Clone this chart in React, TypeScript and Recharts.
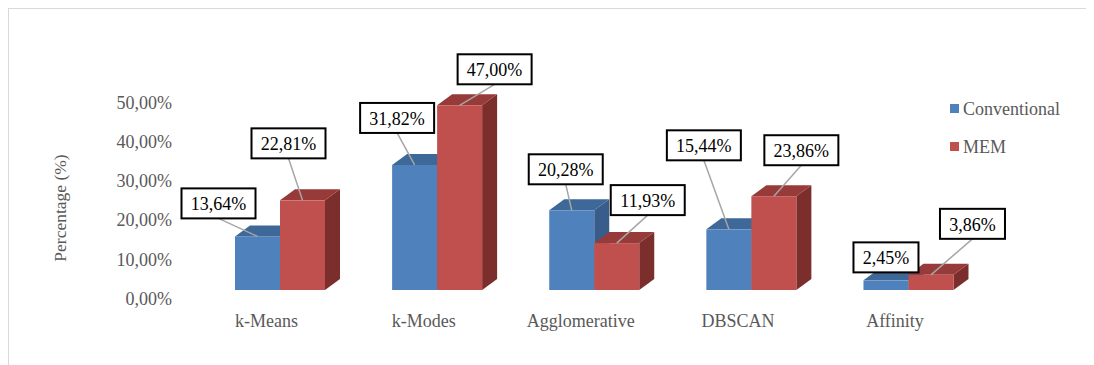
import { BarChart, Bar, XAxis, YAxis, LabelList } from "recharts";

const methods = ["k-Means", "k-Modes", "Agglomerative", "DBSCAN", "Affinity"];
const conventional = [13.64, 31.82, 20.28, 15.44, 2.45];
const mem = [22.81, 47.0, 11.93, 23.86, 3.86];
const yTicks = [0, 10, 20, 30, 40, 50];

// hand placed label boxes, offset from the bar's front top centre
const convLabelPos = [[-39, -33], [-17.5, -47], [-6, -41], [-25, -84], [0, -23]];
const memLabelPos = [[-14, -57], [35, -36], [31, -43], [27.5, -46], [41.5, -51]];

const rows = methods.map((m, i) => ({ name: m, conv: conventional[i], mem: mem[i] }));

const FONT = "Liberation Serif, DejaVu Serif, serif";
const DX = 15;
const DY = 11;

const fmt = (v: number) => v.toFixed(2).replace(".", ",") + "%";

function make3D(front: string, top: string, side: string) {
  return (props: any) => {
    const { x, y, width: w, height: h } = props;
    if (!Number.isFinite(x) || !Number.isFinite(y)) return <g />;
    return (
      <g>
        <polygon
          points={`${x + w},${y} ${x + w + DX},${y - DY} ${x + w + DX},${y + h - DY} ${x + w},${y + h}`}
          fill={side}
        />
        <polygon
          points={`${x},${y} ${x + DX},${y - DY} ${x + w + DX},${y - DY} ${x + w},${y}`}
          fill={top}
        />
        <rect x={x} y={y} width={w} height={h} fill={front} />
      </g>
    );
  };
}

function Callout({ cx, cy, off, value }: { cx: number; cy: number; off: number[]; value: number }) {
  const text = fmt(value);
  const bw = text.length * 9 + 20;
  const bh = 30;
  const bx = cx + off[0];
  const by = cy + off[1];
  const showLine = Math.hypot(off[0], off[1] + bh / 2) > 12;
  return (
    <g>
      {showLine && (
        <line x1={bx} y1={by + bh / 2} x2={cx} y2={cy} stroke="#A6A6A6" strokeWidth={1.5} />
      )}
      <rect x={bx - bw / 2} y={by - bh / 2} width={bw} height={bh} fill="#fff" stroke="#000" strokeWidth={2} />
      <text x={bx} y={by + 7} textAnchor="middle" fontFamily={FONT} fontSize={18} fill="#000">
        {text}
      </text>
    </g>
  );
}

// drawn from the MEM series so both callouts sit above every bar
function PairLabels(props: any) {
  const vb = props.viewBox ?? props;
  const i = props.index;
  const x = vb.x;
  const y = vb.y;
  const w = vb.width;
  const h = vb.height;
  if (!Number.isFinite(x) || i == null) return null;
  const base = y + h;
  const blueH = (h * conventional[i]) / mem[i];
  return (
    <g>
      <Callout cx={x - w / 2} cy={base - blueH} off={convLabelPos[i]} value={conventional[i]} />
      <Callout cx={x + w / 2} cy={y} off={memLabelPos[i]} value={mem[i]} />
    </g>
  );
}

const XTick = (props: any) => {
  const { x, y, payload } = props;
  return (
    <text x={x - 13} y={y + 37} textAnchor="middle" fontFamily={FONT} fontSize={18} fill="#595959">
      {payload.value}
    </text>
  );
};

const YTick = (props: any) => {
  const { x, y, payload } = props;
  return (
    <text x={x} y={y + 15} textAnchor="end" fontFamily={FONT} fontSize={18} fill="#595959">
      {fmt(payload.value)}
    </text>
  );
};

const legendItems = [
  { label: "Conventional", color: "#4F81BD" },
  { label: "MEM", color: "#C0504D" },
];

export default function App() {
  return (
    <div
      style={{
        position: "relative",
        width: 1086,
        height: 356,
        borderTop: "1px solid #D9D9D9",
        borderLeft: "1px solid #D9D9D9",
        background: "#fff",
      }}
    >
      <BarChart
        width={1076}
        height={348}
        data={rows}
        margin={{ top: 84.5, right: 98.4, left: 0, bottom: 0 }}
        barGap={0}
        barSize={45}
      >
        <XAxis
          dataKey="name"
          axisLine={false}
          tickLine={false}
          tickSize={0}
          tickMargin={0}
          height={67}
          tick={<XTick />}
          interval={0}
        />
        <YAxis
          domain={[0, 50]}
          ticks={yTicks}
          axisLine={false}
          tickLine={false}
          tickSize={0}
          tickMargin={29}
          width={192}
          tick={<YTick />}
          label={{
            content: () => (
              <text
                x={51}
                y={199}
                transform="rotate(-90 51 199)"
                textAnchor="middle"
                dominantBaseline="central"
                fontFamily={FONT}
                fontSize={17.5}
                fill="#595959"
              >
                Percentage (%)
              </text>
            ),
          }}
        />
        <Bar dataKey="conv" isAnimationActive={false} shape={make3D("#4F81BD", "#3D6897", "#385D8A")} />
        <Bar dataKey="mem" isAnimationActive={false} shape={make3D("#C0504D", "#963B39", "#7B2E2C")}>
          <LabelList dataKey="mem" content={<PairLabels />} />
        </Bar>
      </BarChart>
      <div style={{ position: "absolute", left: 941, top: 95, fontFamily: FONT, fontSize: 18, color: "#595959" }}>
        {legendItems.map((it, k) => (
          <div key={it.label} style={{ position: "absolute", top: k * 38, left: 0, whiteSpace: "nowrap" }}>
            <span style={{ position: "absolute", left: 0, top: 0, width: 9, height: 9, background: it.color }} />
            <span style={{ position: "absolute", left: 13, top: -7, lineHeight: "24px" }}>{it.label}</span>
          </div>
        ))}
      </div>
    </div>
  );
}
